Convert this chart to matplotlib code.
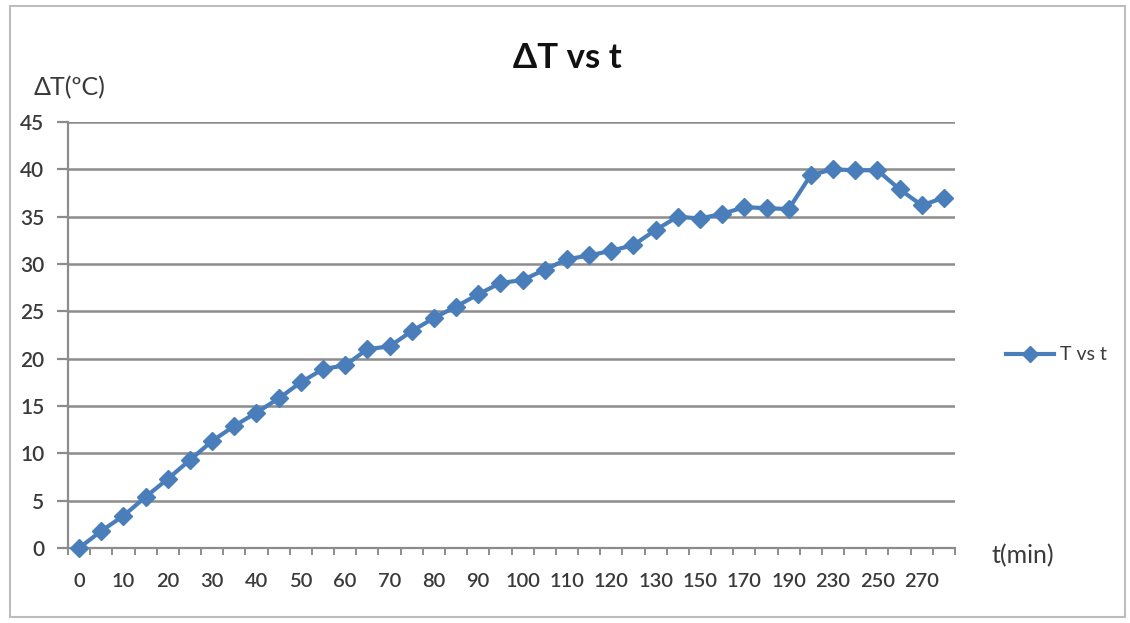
import matplotlib
matplotlib.use("Agg")
import matplotlib.pyplot as plt
from matplotlib.patches import Rectangle
from matplotlib.ticker import FixedLocator, FixedFormatter

plt.rcParams['font.family'] = ['Lato', 'DejaVu Sans']

# Categories (time, minutes) as on the category axis
t_min = [0, 5, 10, 15, 20, 25, 30, 35, 40, 45, 50, 55, 60, 65, 70, 75, 80, 85, 90, 95,
         100, 105, 110, 115, 120, 125, 130, 140, 150, 160, 170, 180, 190, 210, 230, 240,
         250, 260, 270, 280]
# Temperature rise (deg C)
dT = [0, 1.8, 3.4, 5.4, 7.3, 9.3, 11.3, 12.9, 14.3, 15.8, 17.5, 18.9, 19.3, 21.0, 21.3,
      22.9, 24.3, 25.5, 26.8, 28.0, 28.3, 29.4, 30.5, 30.9, 31.4, 32.0, 33.6, 35.0, 34.8,
      35.3, 36.0, 35.9, 35.8, 39.4, 40.0, 39.9, 39.9, 37.9, 36.2, 37.0]
y_ticks = [0, 5, 10, 15, 20, 25, 30, 35, 40, 45]
series_name = "T vs t"
title = "ΔT vs t"
y_label = "ΔT(ºC)"
x_label = "t(min)"

W, H = 1130, 623
fig = plt.figure(figsize=(W / 100, H / 100), dpi=100)
fig.patch.set_facecolor('white')

# chart-area border
fig.patches.append(Rectangle((10 / W, 6 / H), (1125 - 10) / W, (617 - 6) / H,
                             transform=fig.transFigure, fill=False,
                             edgecolor='#BDBDBD', linewidth=1.5))

ax = fig.add_axes([68 / W, (H - 548) / H, (955 - 68) / W, (548 - 122) / H])

idx = list(range(len(t_min)))
line_color = '#4A7EBB'
ax.plot(idx, dT, color=line_color, linewidth=3.0, marker='D', markersize=9,
        markerfacecolor=line_color, markeredgecolor=line_color, label=series_name,
        zorder=3, clip_on=False)

ax.set_xlim(-0.5, len(t_min) - 0.5)
ax.set_ylim(0, 45)

grid_c = '#8C8C8C'
txt_c = '#3A3A3A'
for s in ['top', 'right']:
    ax.spines[s].set_visible(False)
for s in ['left', 'bottom']:
    ax.spines[s].set_color(grid_c)
    ax.spines[s].set_linewidth(1.6)

ax.set_yticks(y_ticks)
ax.set_yticklabels([str(v) for v in y_ticks])
ax.yaxis.grid(True, color=grid_c, linewidth=1.8)
ax.set_axisbelow(True)
ax.tick_params(axis='y', length=8, width=1.6, color=grid_c, pad=9,
               labelsize=15, labelcolor=txt_c)
for lb in ax.get_yticklabels():
    lb.set_fontweight('semibold')

# category labels every other category, tick marks at category boundaries
major_pos = idx[::2]
ax.xaxis.set_major_locator(FixedLocator(major_pos))
ax.xaxis.set_major_formatter(FixedFormatter([str(t_min[i]) for i in major_pos]))
ax.xaxis.set_minor_locator(FixedLocator([i - 0.5 for i in idx] + [len(idx) - 0.5]))
ax.tick_params(axis='x', which='major', length=0, pad=18, labelsize=14.5,
               labelcolor=txt_c)
ax.tick_params(axis='x', which='minor', length=5, width=1.4, color=grid_c)
for lb in ax.get_xticklabels():
    lb.set_fontweight('semibold')

fig.text(567 / W, 1 - 58 / H, title, ha='center', va='center', fontsize=25,
         fontweight='bold', color='#111111')
fig.text(34 / W, 1 - 88 / H, y_label, ha='left', va='center', fontsize=18,
         color=txt_c)
fig.text(992 / W, 1 - 556 / H, x_label, ha='left', va='center', fontsize=18,
         color=txt_c)

leg = ax.legend(loc='center left', bbox_to_anchor=(988 / W, 1 - 355 / H),
                bbox_transform=fig.transFigure, frameon=False, fontsize=14,
                handlelength=2.5, handletextpad=0.3, markerscale=0.85)
for t in leg.get_texts():
    t.set_color(txt_c)

fig.savefig('out.png', dpi=100, facecolor='white')
